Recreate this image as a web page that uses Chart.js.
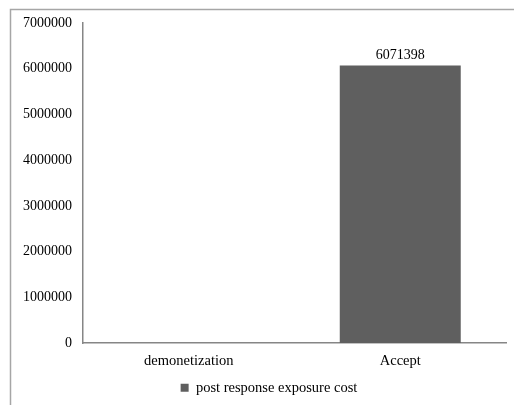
<!DOCTYPE html>
<html>
<head>
<meta charset="utf-8">
<script src="https://cdn.jsdelivr.net/npm/chart.js@4/dist/chart.umd.min.js"></script>
<style>
  html, body { margin: 0; padding: 0; background: #fff; }
  #wrap { position: relative; width: 514px; height: 405px; }
</style>
</head>
<body>
<div id="wrap"><canvas id="myChart_cost" width="514" height="405"></canvas></div>
<script>
// du lieu
var categories = ['demonetization', 'Accept'];
var costValues = [null, 6071398];
var yTicks = [0, 1000000, 2000000, 3000000, 4000000, 5000000, 6000000, 7000000];
var seriesName = 'post response exposure cost';

Chart.defaults.font.family = '"Liberation Serif", "Times New Roman", serif';
Chart.defaults.font.size = 14;
Chart.defaults.color = '#000';

// khung vien ngoai
var framePlugin = {
    id: 'frame',
    afterLayout: function(chart) {
        // day chu thich sang phai mot chut
        if (chart.legend) chart.legend.left = 32;
    },
    beforeDraw: function(chart) {
        var c = chart.ctx;
        c.save();
        c.strokeStyle = '#a6a6a6';
        c.lineWidth = 1.5;
        c.beginPath();
        c.moveTo(10.5, 410);
        c.lineTo(10.5, 9.5);
        c.lineTo(520, 9.5);
        c.stroke();
        c.restore();
    }
};

// so tren dau cot
var valueLabels = {
    id: 'valueLabels',
    afterDatasetsDraw: function(chart) {
        var c = chart.ctx;
        var meta = chart.getDatasetMeta(0);
        c.save();
        c.font = '14px "Liberation Serif", serif';
        c.fillStyle = '#000';
        c.textAlign = 'center';
        c.textBaseline = 'middle';
        meta.data.forEach(function(bar, i) {
            var v = costValues[i];
            if (v === null) return;
            c.fillText(String(v), bar.x, bar.y - 10);
        });
        c.restore();
    }
};

var ctx = document.getElementById('myChart_cost');
var myChart = new Chart(ctx, {
    type: 'bar',
    data: {
        labels: categories,
        datasets: [{
            label: seriesName,
            data: costValues,
            backgroundColor: '#5f5f5f',
            borderWidth: 0,
            barPercentage: 0.572,
            categoryPercentage: 1
        }]
    },
    options: {
        responsive: false,
        animation: false,
        devicePixelRatio: 1,
        layout: { padding: { top: 23, right: 8, bottom: 0, left: 0 } },
        plugins: {
            legend: {
                position: 'bottom',
                labels: {
                    boxWidth: 8,
                    boxHeight: 8,
                    padding: 8,
                    color: '#000',
                    font: { size: 14.5 }
                }
            },
            tooltip: { enabled: false }
        },
        scales: {
            x: {
                afterFit: function(scale) { scale.height -= 6; },
                grid: { display: false, drawTicks: false },
                border: { display: true, color: '#868686', width: 1.5 },
                ticks: { padding: 9, font: { size: 14.5 } }
            },
            y: {
                min: yTicks[0],
                max: yTicks[yTicks.length - 1],
                afterFit: function(scale) { scale.width = 83; },
                grid: { display: false, drawTicks: false },
                border: { display: true, color: '#868686', width: 1.5 },
                ticks: {
                    stepSize: yTicks[1] - yTicks[0],
                    autoSkip: false,
                    padding: 11,
                    callback: function(value) { return String(value); }
                }
            }
        }
    },
    plugins: [framePlugin, valueLabels]
});
</script>
</body>
</html>
